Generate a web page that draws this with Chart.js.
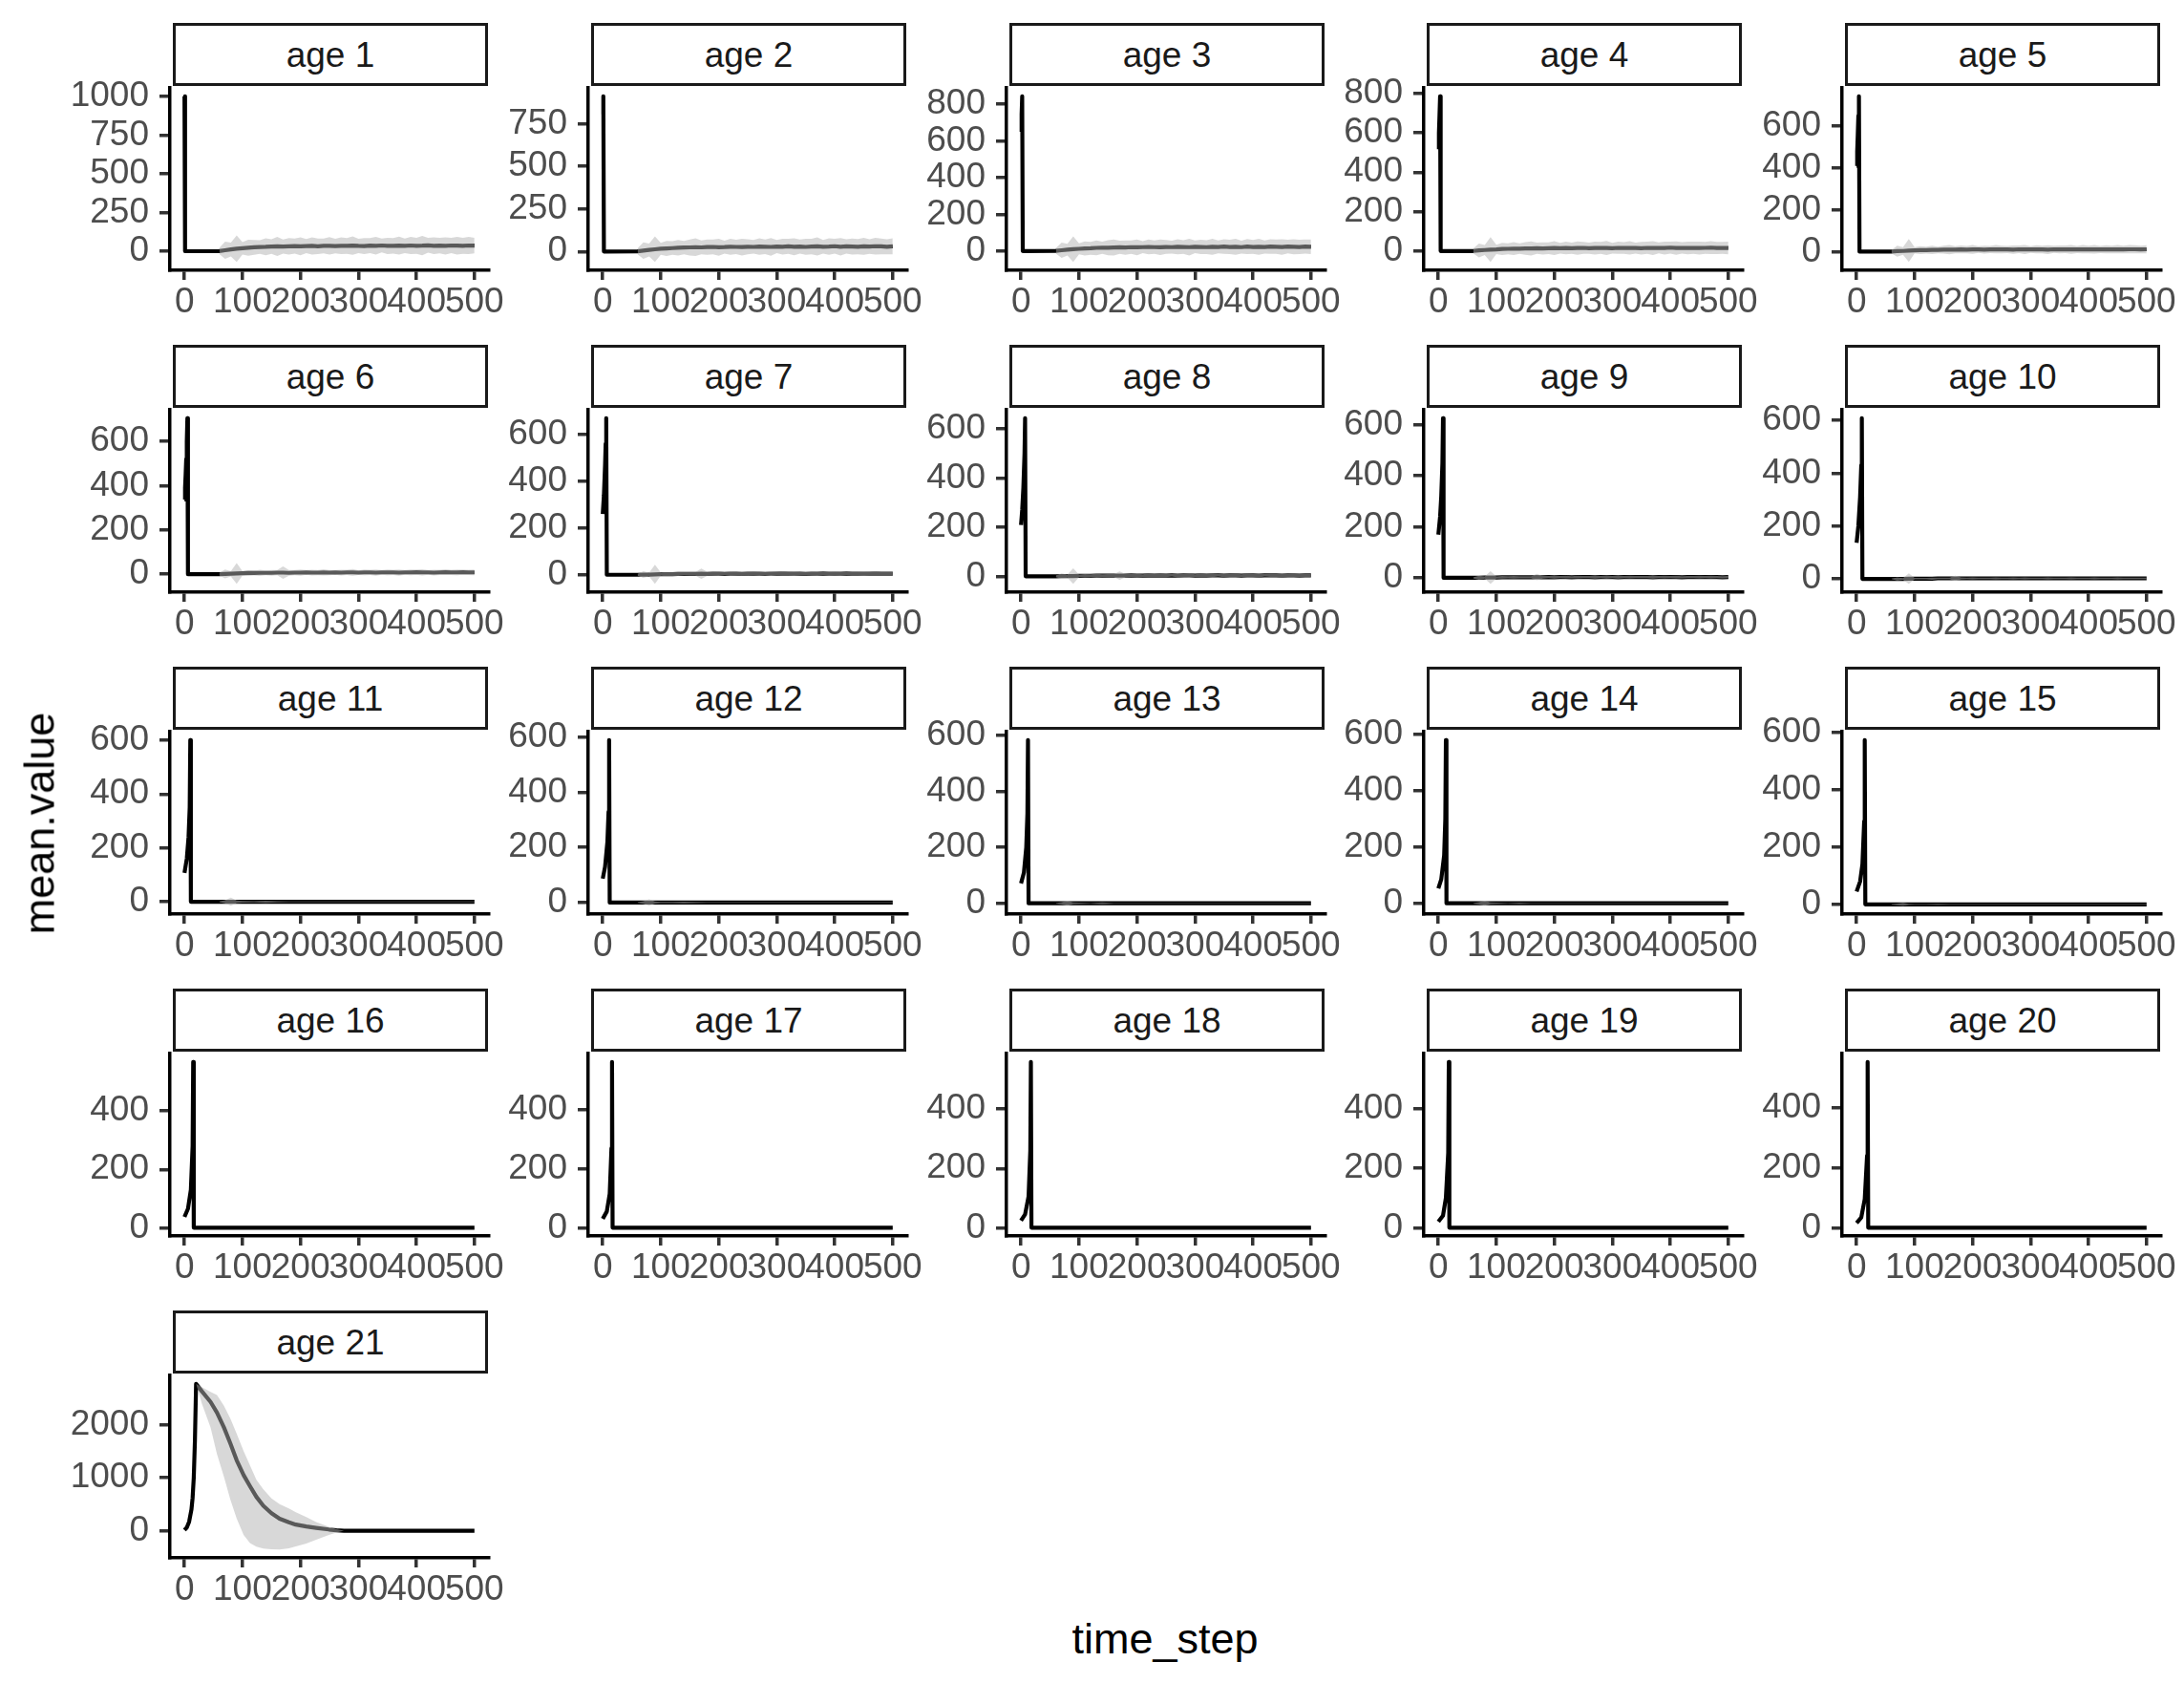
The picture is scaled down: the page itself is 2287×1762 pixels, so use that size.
<!DOCTYPE html>
<html>
<head>
<meta charset="utf-8">
<script src="https://cdn.jsdelivr.net/npm/chart.js@4.4.1/dist/chart.umd.min.js"></script>
<style>
html,body{margin:0;padding:0;background:#fff;}
#root{position:relative;width:2287px;height:1762px;overflow:hidden;background:#fff;font-family:"Liberation Sans",Arial,Helvetica,sans-serif;}
.strip{position:absolute;box-sizing:border-box;height:66px;border:3px solid #1a1a1a;background:#fff;color:#1a1a1a;font-size:37px;line-height:62px;text-align:center;white-space:nowrap;}
.axtitle{position:absolute;font-size:45px;color:#000;white-space:nowrap;line-height:1;}
canvas{position:absolute;}
</style>
</head>
<body>
<div id="root"></div>
<script>
// ---------------- DATA ----------------
const panelLabels = ['age 1','age 2','age 3','age 4','age 5','age 6','age 7','age 8','age 9','age 10',
  'age 11','age 12','age 13','age 14','age 15','age 16','age 17','age 18','age 19','age 20','age 21'];
const xTickValues = [0,100,200,300,400,500];
const yTicks_age1 = [0,250,500,750,1000];
const yTicks_age2 = [0,250,500,750];
const yTicks_800 = [0,200,400,600,800];
const yTicks_600 = [0,200,400,600];
const yTicks_400 = [0,200,400];
const yTicks_age21 = [0,1000,2000];

// early (deterministic) phase of mean.value: [time_step, value]
const early_age1  = [[0,1000],[1,0]];
const early_age2  = [[0,807],[1,912],[2,0]];
const early_age3  = [[0,649],[1,745],[2,842],[3,0]];
const early_age4  = [[0,516],[1,600],[2,690],[3,785],[4,0]];
const early_age5  = [[0,410],[1,480],[2,560],[3,650],[4,743],[5,0]];
const early_age6  = [[0,337],[1,390],[2,450],[3,520],[4,600],[5,704],[6,0]];
const early_age7  = [[0,260],[2,340],[4,470],[5,560],[6,669],[7,0]];
const early_age8  = [[0,209],[2,270],[4,360],[6,500],[7,644],[8,0]];
const early_age9  = [[0,169],[3,240],[5,320],[7,450],[8,626],[9,0]];
const early_age10 = [[0,137],[3,200],[6,310],[8,430],[9,608],[10,0]];
const early_age11 = [[0,107],[4,160],[7,240],[9,350],[10,600],[11,0]];
const early_age12 = [[0,87],[4,130],[8,220],[10,330],[11,590],[12,0]];
const early_age13 = [[0,71],[5,110],[9,200],[11,320],[12,583],[13,0]];
const early_age14 = [[0,53],[5,85],[10,170],[12,300],[13,580],[14,0]];
const early_age15 = [[0,45],[6,80],[10,140],[13,290],[14,574],[15,0]];
const early_age16 = [[0,37],[6,65],[11,130],[14,280],[15,568],[16,0]];
const early_age17 = [[0,30],[7,55],[12,115],[15,270],[16,563],[17,0]];
const early_age18 = [[0,24],[7,45],[13,105],[16,260],[17,559],[18,0]];
const early_age19 = [[0,20],[8,40],[13,100],[17,250],[18,555],[19,0]];
const early_age20 = [[0,16],[8,34],[14,95],[18,240],[19,552],[20,0]];

// stochastic phase (ages 1-10): time steps, mean and sd
const T_NOISE = [60,70,80,90,100,110,120,130,140,150,160,170,180,190,200,210,220,230,240,250,260,270,280,290,300,310,320,330,340,350,360,370,380,390,400,410,420,430,440,450,460,470,480,490,500];
const mean_age1 = [1,6,11,16,19,22,25,27,28,30, 31,30,32,33,31,33,34,32,34,35, 33,35,34,36,34,33,36,35,37,34, 35,36,34,37,35,36,38,35,36,34, 37,36,35,37,36];
const sd_age1   = [20,55,45,86,40,52,48,44,55,47, 62,46,53,49,58,45,55,50,48,56, 47,54,51,60,46,52,49,57,45,53, 50,58,47,55,52,62,48,54,50,56, 49,57,52,55,50];
const mean_age2 = [1,5,9,13,16,18,20,22,23,24, 25,24,26,27,25,26,28,27,26,28, 27,29,28,27,29,28,30,28,29,27, 29,30,28,29,31,28,30,29,28,30, 29,31,30,28,30];
const sd_age2   = [18,48,38,75,35,44,40,46,39,47, 52,41,45,43,50,38,47,42,49,44, 40,48,43,52,39,46,44,50,41,47, 45,53,40,48,44,51,42,47,45,50, 43,49,46,44,47];
const mean_age3 = [1,4,7,10,12,14,15,17,18,18, 19,20,19,21,20,21,22,21,20,22, 21,23,22,21,23,22,21,23,22,24, 22,23,21,24,22,23,22,24,23,22, 24,23,22,24,23];
const sd_age3   = [15,42,32,70,30,38,35,40,33,41, 44,36,39,37,43,33,40,36,42,38, 35,41,37,45,34,39,38,43,35,40, 39,44,35,41,38,43,36,40,39,42, 37,41,39,38,40];
const mean_age4 = [0,3,5,7,8,10,11,12,12,13, 13,14,13,14,15,14,15,14,15,16, 14,15,16,15,14,16,15,16,15,14, 16,15,16,15,17,15,16,15,16,15, 16,17,15,16,15];
const sd_age4   = [12,35,26,63,24,31,28,33,27,32, 36,29,31,30,35,27,32,29,34,30, 28,33,30,36,27,31,30,34,28,32, 31,35,28,33,30,34,29,32,31,33, 30,33,31,30,32];
const mean_age5 = [0,2,3,5,6,7,7,8,8,9, 9,9,10,9,10,10,9,10,11,10, 10,9,11,10,10,11,10,9,11,10, 11,10,10,11,10,11,10,11,10,11, 10,11,11,10,11];
const sd_age5   = [8,26,18,55,15,19,17,20,16,19, 22,17,19,18,21,16,19,17,20,18, 17,20,18,22,16,19,18,21,17,19, 18,21,17,20,18,21,17,19,18,20, 18,20,19,18,19];
const mean_age6 = [0,1,2,3,4,5,5,6,6,6, 7,7,6,7,7,8,7,7,8,7, 8,7,8,8,7,8,8,7,8,8, 8,7,8,8,9,8,8,7,8,9, 8,8,9,8,8];
const sd_age6   = [6,20,12,47,10,13,11,14,11,13, 12,28,13,12,14,11,13,12,14,12, 11,13,12,15,11,13,12,14,11,13, 12,14,11,13,12,14,11,13,12,13, 12,13,12,12,13];
const mean_age7 = [0,1,1,2,3,3,3,4,4,4, 4,5,4,5,5,4,5,5,4,5, 5,5,4,5,5,6,5,5,5,4, 5,5,6,5,5,5,6,5,5,5, 5,6,5,5,5];
const sd_age7   = [4,14,8,41,7,9,8,9,7,8, 8,22,9,8,9,7,9,8,9,8, 7,9,8,10,7,9,8,9,7,8, 8,9,7,9,8,9,7,8,8,9, 8,9,8,8,8];
const mean_age8 = [0,1,1,1,2,2,2,3,3,3, 3,3,3,4,3,3,4,3,4,3, 4,3,4,4,3,4,3,4,4,3, 4,4,3,4,4,3,4,4,4,3, 4,4,3,4,4];
const sd_age8   = [3,11,6,32,5,7,6,7,5,6, 6,17,7,6,7,5,7,6,7,6, 5,7,6,8,5,7,6,7,5,6, 6,7,5,7,6,7,5,6,6,7, 6,7,6,6,6];
const mean_age9 = [0,0,1,1,1,2,2,2,2,2, 2,3,2,3,2,3,3,2,3,3, 3,2,3,3,3,2,3,3,3,3, 3,2,3,3,3,3,2,3,3,3, 3,3,3,2,3];
const sd_age9   = [2,8,4,25,4,5,4,5,4,4, 4,13,5,4,5,4,5,4,5,4, 4,5,4,6,4,5,4,5,4,4, 4,5,4,5,4,5,4,4,4,5, 4,5,4,4,4];
const mean_age10 = [0,0,0,1,1,1,1,1,2,2, 2,2,2,2,2,2,2,2,2,2, 2,2,2,2,2,2,2,2,2,2, 2,2,2,2,2,2,2,2,2,2, 2,2,2,2,2];
const sd_age10   = [1,6,3,20,3,3,3,4,3,3, 3,10,4,3,4,3,3,3,4,3, 3,4,3,4,3,3,3,4,3,3, 3,4,3,3,3,4,3,3,3,4, 3,3,3,3,3];

// ages 11-15: mean stays at 0, tiny spread
const T_SPARSE = [60,70,80,90,100,120,140,160,180,200,250,300,350,400,450,500];
const sd_age11 = [1,6,15,5,3,2,4,2,1,1,1,1,1,1,1,1];
const sd_age12 = [1,5,12,4,2,2,3,2,1,1,1,1,1,1,1,1];
const sd_age13 = [1,4,9,3,2,1,3,1,1,1,1,1,1,1,1,1];
const sd_age14 = [1,4,9,3,2,1,2,1,1,1,1,1,1,1,1,1];
const sd_age15 = [1,3,5,2,1,1,2,1,1,1,1,1,1,1,1,1];

// age 21 (plus group)
const path_age21 = [[0,14],[4,60],[8,170],[12,400],[14,620],[16,1000],[18,1700],[20,2770],[30,2630],[45,2430],[56,2230],[68,1950],[79,1650],[90,1330],[102,1050],[113,840],[124,640],[136,470],[150,330],[164,226],[180,160],[192,116],[210,80],[227,55],[249,24],[262,10],[275,0],[500,0]];
const band_t_age21  = [20,30,45,56,68,79,90,102,113,124,136,150,164,180,192,210,227,249,262,275];
const band_hi_age21 = [2770,2710,2620,2560,2360,2120,1830,1500,1230,960,780,610,500,420,350,260,165,73,30,0];
const band_lo_age21 = [2770,2400,1950,1450,1020,590,230,-80,-232,-300,-336,-350,-355,-330,-294,-240,-171,-80,-35,0];

// ---------------- BUILD ----------------
const FONT = '"Liberation Sans", Arial, Helvetica, sans-serif';
Chart.defaults.font.family = FONT;
const RIBBON = 'rgba(178,178,178,0.5)';
const COL_X0 = 178, COL_DX = 437.75, ROW_Y0 = 92, ROW_DY = 337, STRIP_Y0 = 24, PLOT_W = 334, PLOT_H = 191;
const TICK_FONT = 37;

const earlyList = [early_age1,early_age2,early_age3,early_age4,early_age5,early_age6,early_age7,early_age8,early_age9,early_age10,
  early_age11,early_age12,early_age13,early_age14,early_age15,early_age16,early_age17,early_age18,early_age19,early_age20];
const meanList = [mean_age1,mean_age2,mean_age3,mean_age4,mean_age5,mean_age6,mean_age7,mean_age8,mean_age9,mean_age10];
const sdList = [sd_age1,sd_age2,sd_age3,sd_age4,sd_age5,sd_age6,sd_age7,sd_age8,sd_age9,sd_age10];
const sdSmallList = [sd_age11,sd_age12,sd_age13,sd_age14,sd_age15];
const yTickList = [yTicks_age1,yTicks_age2,yTicks_800,yTicks_800,yTicks_600,yTicks_600,yTicks_600,yTicks_600,yTicks_600,yTicks_600,
  yTicks_600,yTicks_600,yTicks_600,yTicks_600,yTicks_600,yTicks_400,yTicks_400,yTicks_400,yTicks_400,yTicks_400,yTicks_age21];

function panelData(i) {
  let path = [], band = null;
  if (i < 10) {
    path = earlyList[i].slice();
    const m = meanList[i], s = sdList[i];
    const n = Math.min(T_NOISE.length, m.length, s.length);
    const t = [], lo = [], hi = [];
    for (let k = 0; k < n; k++) {
      path.push([T_NOISE[k], m[k]]);
      t.push(T_NOISE[k]); lo.push(m[k] - s[k]); hi.push(m[k] + s[k]);
    }
    band = {t, lo, hi};
  } else if (i < 20) {
    path = earlyList[i].concat([[500,0]]);
    if (i < 15) {
      const s = sdSmallList[i-10];
      const t = [], lo = [], hi = [];
      for (let k = 0; k < Math.min(T_SPARSE.length, s.length); k++) {
        t.push(T_SPARSE[k]); lo.push(-s[k]); hi.push(s[k]);
      }
      band = {t, lo, hi};
    }
  } else {
    path = path_age21.slice();
    band = {t: band_t_age21, lo: band_lo_age21, hi: band_hi_age21};
  }
  let mn = Infinity, mx = -Infinity;
  path.forEach(p => { mn = Math.min(mn, p[1]); mx = Math.max(mx, p[1]); });
  if (band) { band.lo.forEach(v => mn = Math.min(mn, v)); band.hi.forEach(v => mx = Math.max(mx, v)); }
  const R = mx - mn;
  return {path, band, yMin: mn - 0.05*R, yMax: mx + 0.05*R, yTicks: yTickList[i]};
}

function scaleOpts(min, max, tickVals, isX) {
  return {
    type: 'linear', bounds: 'data', min, max,
    afterBuildTicks: s => { s.ticks = tickVals.map(v => ({value: v})); },
    afterFit: s => { if (isX) s.height = 75; else s.width = 130; },
    grid: {display: true, drawOnChartArea: false, drawTicks: true, tickLength: isX ? 10 : 11, tickWidth: 3.5, lineWidth: 3.5, tickColor: '#333333', color: '#333333'},
    border: {display: true, color: '#000000', width: 3.5},
    ticks: {autoSkip: false, maxRotation: 0, minRotation: 0, padding: isX ? 2 : 11, color: '#4D4D4D',
      font: {family: FONT, size: TICK_FONT}, callback: v => String(v)}
  };
}

function makeConfig(d) {
  const datasets = [];
  if (d.band) {
    datasets.push({data: d.band.t.map((t,k) => ({x: t, y: d.band.hi[k]})), fill: '+1', backgroundColor: RIBBON,
      borderColor: 'rgba(0,0,0,0)', borderWidth: 0, pointRadius: 0, tension: 0});
    datasets.push({data: d.band.t.map((t,k) => ({x: t, y: d.band.lo[k]})), fill: false,
      borderColor: 'rgba(0,0,0,0)', borderWidth: 0, pointRadius: 0, tension: 0});
  }
  datasets.push({data: d.path.map(p => ({x: p[0], y: p[1]})), fill: false, borderColor: '#000000', borderWidth: 4.2,
    pointRadius: 0, tension: 0, borderJoinStyle: 'round', borderCapStyle: 'butt'});
  return {
    type: 'line',
    data: {datasets},
    options: {
      responsive: false, maintainAspectRatio: false, animation: false, events: [],
      layout: {padding: {top: 30, right: 45, bottom: 0, left: 0}},
      plugins: {legend: {display: false}, tooltip: {enabled: false}, title: {display: false}},
      scales: {
        x: scaleOpts(-25, 525, xTickValues, true),
        y: scaleOpts(d.yMin, d.yMax, d.yTicks, false)
      }
    }
  };
}

const root = document.getElementById('root');

function buildPanel(i) {
  const r = Math.floor(i / 5), c = i % 5;
  const plotLeft = Math.round(COL_X0 + c * COL_DX);
  const plotTop = ROW_Y0 + r * ROW_DY;

  const strip = document.createElement('div');
  strip.className = 'strip';
  strip.style.left = (plotLeft + 3) + 'px';
  strip.style.top = (STRIP_Y0 + r * ROW_DY) + 'px';
  strip.style.width = (PLOT_W - 4) + 'px';
  strip.textContent = panelLabels[i];
  root.appendChild(strip);

  const d = panelData(i);
  const W0 = 620, H0 = 340;
  let cv = document.createElement('canvas');
  cv.width = W0; cv.height = H0;
  root.appendChild(cv);
  let ch = new Chart(cv, makeConfig(d));
  const ca = {left: ch.chartArea.left, top: ch.chartArea.top, right: ch.chartArea.right, bottom: ch.chartArea.bottom};
  ch.destroy(); cv.remove();

  const W = Math.round(ca.left + PLOT_W + (W0 - ca.right));
  const H = Math.round(ca.top + PLOT_H + (H0 - ca.bottom));
  cv = document.createElement('canvas');
  cv.width = W; cv.height = H;
  cv.style.left = Math.round(plotLeft - ca.left) + 'px';
  cv.style.top = Math.round(plotTop - ca.top) + 'px';
  root.appendChild(cv);
  new Chart(cv, makeConfig(d));
}

for (let i = 0; i < 21; i++) buildPanel(i);

const yt = document.createElement('div');
yt.className = 'axtitle';
yt.textContent = 'mean.value';
yt.style.left = '41px'; yt.style.top = '862px';
yt.style.transform = 'translate(-50%,-50%) rotate(-90deg)';
root.appendChild(yt);

const xt = document.createElement('div');
xt.className = 'axtitle';
xt.textContent = 'time_step';
xt.style.left = '1220px'; xt.style.top = '1715px';
xt.style.transform = 'translate(-50%,-50%)';
root.appendChild(xt);
</script>
</body>
</html>
